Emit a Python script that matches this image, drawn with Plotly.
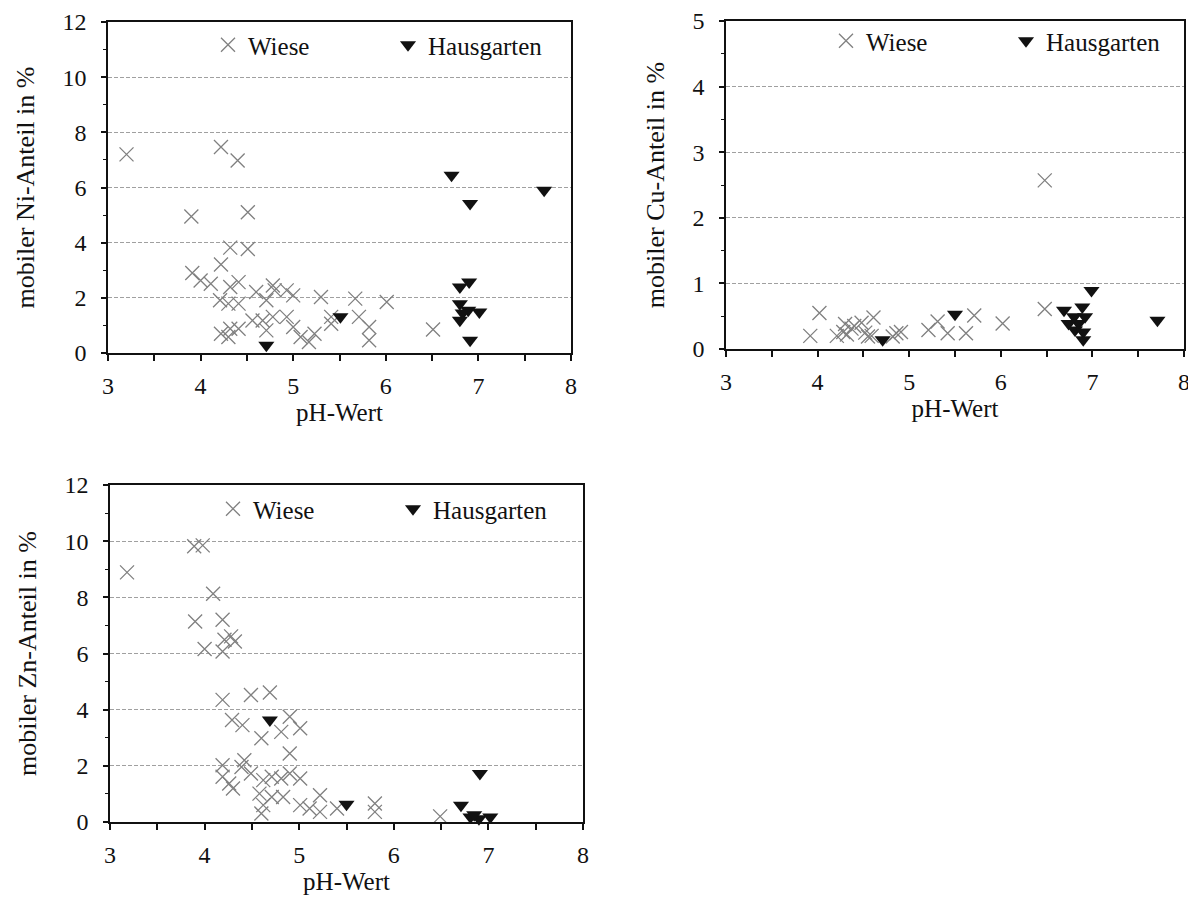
import plotly.graph_objects as go

# ---------------- data ----------------
ni_wiese_ph = [3.20, 4.22, 4.40, 3.90, 4.51, 4.32, 4.51, 4.22, 3.91, 4.00, 4.11, 4.32, 4.41,
               4.21, 4.30, 4.41, 4.60, 4.22, 4.32, 4.41, 4.30, 4.67, 4.56, 4.71, 4.78, 4.80,
               4.93, 5.00, 4.78, 4.71, 4.93, 5.00, 5.08, 5.17, 5.23, 5.30, 5.41, 5.41, 5.67,
               5.71, 5.82, 5.82, 6.01, 6.51]
ni_wiese_val = [7.20, 7.47, 6.98, 4.95, 5.10, 3.82, 3.77, 3.21, 2.90, 2.63, 2.51, 2.39, 2.57,
                1.91, 1.79, 1.79, 2.21, 0.70, 0.88, 0.88, 0.58, 1.18, 1.18, 1.91, 2.45, 2.27,
                2.27, 2.09, 1.31, 0.82, 1.31, 0.94, 0.58, 0.40, 0.70, 2.03, 1.31, 1.06, 1.97,
                1.31, 0.94, 0.46, 1.85, 0.85]
ni_haus_ph = [4.71, 5.51, 6.71, 6.91, 7.71, 6.80, 6.90, 6.80, 6.80, 6.89, 7.01, 6.91, 6.83]
ni_haus_val = [0.28, 1.31, 6.44, 5.42, 5.90, 2.39, 2.57, 1.79, 1.19, 1.55, 1.49, 0.46, 1.45]

cu_wiese_ph = [3.92, 4.02, 4.21, 4.28, 4.30, 4.32, 4.37, 4.40, 4.48, 4.52, 4.55, 4.59, 4.61,
               4.82, 4.86, 4.91, 5.21, 5.31, 5.42, 5.62, 5.71, 6.02, 6.48, 6.48]
cu_wiese_val = [0.20, 0.55, 0.20, 0.26, 0.38, 0.22, 0.31, 0.35, 0.40, 0.25, 0.19, 0.20, 0.48,
                0.19, 0.24, 0.26, 0.29, 0.42, 0.24, 0.24, 0.51, 0.39, 2.57, 0.61]
cu_haus_ph = [4.71, 5.50, 6.99, 7.71, 6.69, 6.80, 6.89, 6.85, 6.81, 6.90, 6.90, 6.92, 6.74]
cu_haus_val = [0.14, 0.53, 0.89, 0.44, 0.59, 0.49, 0.64, 0.39, 0.29, 0.26, 0.14, 0.49, 0.39]

zn_wiese_ph = [3.18, 3.89, 3.98, 4.09, 3.90, 4.19, 4.00, 4.19, 4.21, 4.28, 4.32, 4.19, 4.49,
               4.69, 4.29, 4.40, 4.90, 4.81, 5.01, 4.60, 4.90, 4.19, 4.39, 4.42, 4.19, 4.26,
               4.30, 4.49, 4.62, 4.71, 4.81, 4.90, 5.01, 4.58, 4.71, 4.83, 4.62, 5.01, 5.11,
               5.22, 5.22, 5.40, 5.80, 5.80, 4.60, 6.49]
zn_wiese_val = [8.89, 9.82, 9.85, 8.13, 7.14, 7.20, 6.16, 6.07, 6.49, 6.61, 6.43, 4.35, 4.52,
                4.61, 3.63, 3.45, 3.75, 3.21, 3.34, 2.98, 2.44, 2.02, 1.96, 2.20, 1.61, 1.37,
                1.19, 1.73, 1.49, 1.61, 1.55, 1.73, 1.55, 1.01, 0.89, 0.89, 0.60, 0.60, 0.48,
                0.95, 0.36, 0.48, 0.66, 0.36, 0.30, 0.20]
zn_haus_ph = [4.69, 5.50, 6.91, 6.71, 6.81, 6.90, 7.02, 6.85]
zn_haus_val = [3.63, 0.63, 1.73, 0.60, 0.18, 0.12, 0.18, 0.26]

x_ticks = [3, 4, 5, 6, 7, 8]
x_title = "pH-Wert"
y_titles = ["mobiler Ni-Anteil in %", "mobiler Cu-Anteil in %", "mobiler Zn-Anteil in %"]
legend_names = ["Wiese", "Hausgarten"]

# ---------------- styling ----------------
OFF = 8  # the page body adds an 8px margin; compensate so the photo lines up
W, H = 1196 - OFF, 901 - OFF
FONT = "Liberation Serif, Times New Roman, serif"
wiese_marker = dict(symbol="x-thin", size=14, color="#808080", line=dict(width=1.3, color="#808080"))
haus_marker = dict(symbol="triangle-down", size=14, color="#111111", line=dict(width=0))

# plot-area pixel boxes on screen: (left, right, top, bottom)
boxes = [(108, 571, 22, 353), (726, 1184, 21, 349), (110, 583, 485, 822)]
yranges = [[0, 12], [0, 5], [0, 12]]
ydticks = [2, 1, 2]
ydminor = [1, 0.5, 1]
legend_pos = [(200, 14), (818, 10), (205, 478)]  # figure px (already offset-corrected)

fig = go.Figure()
datasets = [
    (ni_wiese_ph, ni_wiese_val, ni_haus_ph, ni_haus_val),
    (cu_wiese_ph, cu_wiese_val, cu_haus_ph, cu_haus_val),
    (zn_wiese_ph, zn_wiese_val, zn_haus_ph, zn_haus_val),
]
for i, (wx, wy, hx, hy) in enumerate(datasets):
    sfx = "" if i == 0 else str(i + 1)
    leg = "legend" if i == 0 else f"legend{i+1}"
    fig.add_trace(go.Scatter(x=wx, y=wy, mode="markers", name=legend_names[0],
                             marker=wiese_marker, xaxis="x" + sfx, yaxis="y" + sfx,
                             legend=leg, cliponaxis=False))
    fig.add_trace(go.Scatter(x=hx, y=hy, mode="markers", name=legend_names[1],
                             marker=haus_marker, xaxis="x" + sfx, yaxis="y" + sfx,
                             legend=leg, cliponaxis=False))

layout = dict(
    width=W, height=H,
    margin=dict(l=0, r=0, t=0, b=0, autoexpand=False),
    paper_bgcolor="white", plot_bgcolor="white",
    font=dict(family=FONT, size=24, color="#111"),
)
for i, (l, r, t, b) in enumerate(boxes):
    sfx = "" if i == 0 else str(i + 1)
    l, r, t, b = l - OFF, r - OFF, t - OFF, b - OFF
    xd = [l / W, min(r / W, 1.0)]
    yd = [(H - b) / H, (H - t) / H]
    layout["xaxis" + sfx] = dict(
        domain=xd, anchor="y" + sfx, range=[3, 8], tickvals=x_ticks,
        showgrid=False, zeroline=False, automargin=False, ticklabeloverflow="allow",
        showline=True, linecolor="#111", linewidth=1.6, mirror=True,
        ticks="outside", ticklen=6, tickcolor="#111", tickwidth=1.5,
        minor=dict(dtick=0.5, ticks="outside", ticklen=6, tickcolor="#111", tickwidth=1.5),
        tickfont=dict(size=24), ticklabelstandoff=4,
        title=dict(text=x_title, font=dict(size=25), standoff=1),
    )
    layout["yaxis" + sfx] = dict(
        domain=yd, anchor="x" + sfx, range=yranges[i], dtick=ydticks[i], tick0=0,
        showgrid=True, gridcolor="#a0a0a0", griddash="4px,2px", gridwidth=1,
        zeroline=False, automargin=False, ticklabeloverflow="allow",
        showline=True, linecolor="#111", linewidth=1.6, mirror=True,
        ticks="outside", ticklen=5, tickcolor="#111", tickwidth=1.5,
        minor=dict(dtick=ydminor[i], ticks="outside", ticklen=3, tickcolor="#111", tickwidth=1.2),
        tickfont=dict(size=24), ticklabelstandoff=10,
        title=dict(text=y_titles[i], font=dict(size=26), standoff=20),
    )
    lx, ly = legend_pos[i]
    lg = dict(x=lx / W, y=(H - ly) / H, xanchor="left", yanchor="top",
              orientation="h", bgcolor="rgba(0,0,0,0)", borderwidth=0,
              font=dict(family=FONT, size=25, color="#111"),
              entrywidth=135, entrywidthmode="pixels", itemclick=False)
    layout["legend" if i == 0 else f"legend{i+1}"] = lg

fig.update_layout(**layout)
fig.write_html("out.html")
